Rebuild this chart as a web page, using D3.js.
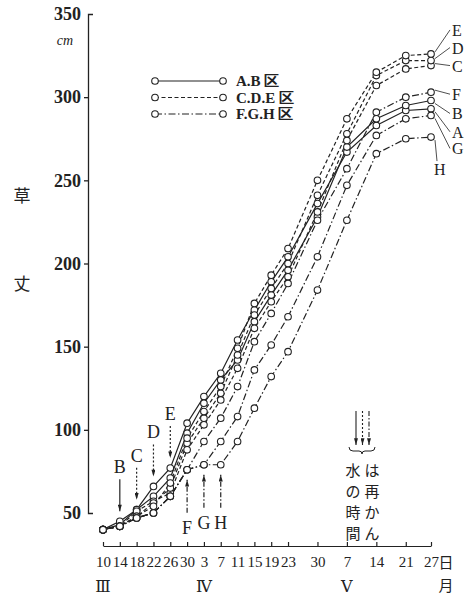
<!DOCTYPE html>
<html>
<head>
<meta charset="utf-8">
<script src="https://cdn.jsdelivr.net/npm/d3@7"></script>
<style>
  body { margin: 0; background: #fff; }
</style>
</head>
<body>
<svg id="chart" width="467" height="598"></svg>
<script>
// measurement days, counted from March 10
var days = [0, 4, 8, 12, 16, 20, 24, 28, 32, 36, 40, 44, 51, 58, 65, 72, 78];
var dayLabels = ["10","14","18","22","26","30","3","7","11","15","19","23","30","7","14","21","27"];
var monthDays = [0, 24, 58];
var monthLabels = ["Ⅲ", "Ⅳ", "Ⅴ"];
var yTicks = [50, 100, 150, 200, 250, 300, 350];

// plant height (cm) per plot
var seriesA = [40,43,52,66,77,104,120,134,154,172,189,204,236,267,283,292,293];
var seriesB = [40,45,52,60,71,98,116,130,142,165,181,196,228,270,287,295,298];
var seriesC = [40,42,51,57,62,88,103,118,137,161,177,192,231,274,307,317,319];
var seriesD = [40,42,48,56,65,92,107,122,145,169,185,200,241,278,313,322,322];
var seriesE = [40,42,48,54,68,95,111,126,149,176,193,209,250,287,315,325,326];
var seriesF = [40,42,47,50,60,76,93,107,126,153,170,188,226,257,291,300,303];
var seriesG = [40,42,47,50,60,76,79,93,108,136,151,168,204,247,277,287,289];
var seriesH = [40,42,47,50,60,76,79,79,93,113,132,147,184,226,266,275,276];

var seriesNames = ["A","B","C","D","E","F","G","H"];
var groupNames = ["A.B 区", "C.D.E 区", "F.G.H 区"];
// re-irrigation day of each plot
var rewaterNames = ["B","C","D","E","F","G","H"];
var rewaterDays = [4, 8, 12, 16, 20, 24, 28];

var allSeries = [seriesA, seriesB, seriesC, seriesD, seriesE, seriesF, seriesG, seriesH];
var groupOf = {A:0, B:0, C:1, D:1, E:1, F:2, G:2, H:2};
var dashes = [null, "4,2.5", "7,2.5,1.5,2.5"];
var ink = "#222";
var serif = "'Liberation Serif', 'DejaVu Serif', serif";
var jp = "'Noto Sans CJK JP', sans-serif";

var svg = d3.select("#chart");

var x = d3.scaleLinear().domain([0, 78]).range([103, 431]);
var y = d3.scaleLinear().domain([50, 350]).range([513, 14]);

// arrow head
svg.append("defs").append("marker")
    .attr("id", "head")
    .attr("viewBox", "0 0 10 6")
    .attr("refX", 10).attr("refY", 3)
    .attr("markerWidth", 8).attr("markerHeight", 4)
    .attr("markerUnits", "userSpaceOnUse")
    .attr("orient", "auto")
  .append("path")
    .attr("d", "M0,0L10,3L0,6Z")
    .attr("fill", ink);

// Y axis
var yAxis = svg.append("g")
    .attr("transform", "translate(88,0)")
    .call(d3.axisLeft(y).tickValues(yTicks).tickSize(4).tickSizeOuter(-5).tickPadding(3));
yAxis.selectAll(".tick").filter(function(d) { return d == 50 || d == 350; })
    .select("line").remove();
yAxis.selectAll("path, line").attr("stroke", ink).attr("stroke-width", 1.3);
yAxis.selectAll("text")
    .attr("font-family", serif).attr("font-weight", "bold")
    .attr("font-size", 18).attr("fill", ink);

svg.append("text").attr("x", 73).attr("y", 45).attr("text-anchor", "end")
    .attr("font-family", serif).attr("font-style", "italic")
    .attr("font-size", 14).attr("fill", ink).text("cm");

svg.append("text").attr("x", 22).attr("y", 202).attr("text-anchor", "middle")
    .attr("font-family", jp).attr("font-size", 17).attr("fill", ink).text("草");
svg.append("text").attr("x", 22).attr("y", 290).attr("text-anchor", "middle")
    .attr("font-family", jp).attr("font-size", 17).attr("fill", ink).text("丈");

// X axis
var xAxis = svg.append("g")
    .attr("transform", "translate(0,546)")
    .call(d3.axisBottom(x).tickValues(days)
      .tickFormat(function(d, i) { return dayLabels[i]; })
      .tickSize(-4).tickSizeOuter(0).tickPadding(10));
xAxis.selectAll("path, line").attr("stroke", ink).attr("stroke-width", 1.2);
xAxis.selectAll("text")
    .attr("font-family", serif).attr("font-size", 15).attr("fill", ink);

svg.selectAll(".month")
  .data(monthDays)
  .enter()
  .append("text")
    .attr("x", function(d) { return x(d); })
    .attr("y", 592)
    .attr("text-anchor", "middle")
    .attr("font-family", serif).attr("font-size", 16).attr("fill", ink)
    .text(function(d, i) { return monthLabels[i]; });

svg.append("text").attr("x", 446).attr("y", 568).attr("text-anchor", "middle")
    .attr("font-family", jp).attr("font-size", 15).attr("fill", ink).text("日");
svg.append("text").attr("x", 446).attr("y", 591).attr("text-anchor", "middle")
    .attr("font-family", jp).attr("font-size", 15).attr("fill", ink).text("月");

// Lines
var line = d3.line()
    .x(function(d, i) { return x(days[i]); })
    .y(function(d) { return y(d); });

svg.selectAll(".series")
  .data(allSeries)
  .enter()
  .append("path")
    .attr("d", line)
    .attr("fill", "none")
    .attr("stroke", ink)
    .attr("stroke-width", 1.2)
    .attr("stroke-dasharray", function(d, i) { return dashes[groupOf[seriesNames[i]]]; });

// Points
allSeries.forEach(function(s) {
  svg.selectAll(null)
    .data(s)
    .enter()
    .append("circle")
      .attr("cx", function(d, i) { return x(days[i]); })
      .attr("cy", function(d) { return y(d); })
      .attr("r", 3.3)
      .attr("fill", "#fff")
      .attr("stroke", ink)
      .attr("stroke-width", 1.1);
});

// series labels at right end
var labelShift = {E:[21,-20], D:[21,-9], C:[21,4], F:[21,6], B:[21,17], A:[21,27], G:[21,37], H:[3,28]};
seriesNames.forEach(function(n, i) {
  var s = allSeries[i];
  var px = x(days[days.length - 1]), py = y(s[s.length - 1]);
  var sh = labelShift[n];
  svg.append("line")
    .attr("x1", px + 4).attr("y1", py + (sh[1] > 10 ? 3 : -2))
    .attr("x2", px + Math.max(sh[0] - 2, 6)).attr("y2", py + sh[1] - 4)
    .attr("stroke", ink).attr("stroke-width", 0.8);
  svg.append("text")
    .attr("x", px + sh[0]).attr("y", py + sh[1] + (n == "H" ? 10 : 2))
    .attr("font-family", serif).attr("font-size", 16).attr("fill", ink)
    .text(n);
});

// Legend
groupNames.forEach(function(g, i) {
  var ly = 81 + i * 16.5;
  svg.append("line")
    .attr("x1", 155).attr("x2", 223).attr("y1", ly).attr("y2", ly)
    .attr("stroke", ink).attr("stroke-width", 1.2)
    .attr("stroke-dasharray", dashes[i]);
  [155, 223].forEach(function(cx) {
    svg.append("circle").attr("cx", cx).attr("cy", ly).attr("r", 3.3)
      .attr("fill", "#fff").attr("stroke", ink).attr("stroke-width", 1.1);
  });
  svg.append("text")
    .attr("x", 236).attr("y", ly + 5)
    .attr("font-family", serif).attr("font-weight", "bold")
    .attr("font-size", 15).attr("fill", ink)
    .text(g);
});

// re-irrigation arrows
rewaterNames.forEach(function(n, i) {
  var d = rewaterDays[i];
  var k = days.indexOf(d);
  var vals = allSeries.map(function(s) { return s[k]; });
  var ax = x(d);
  var dash = dashes[groupOf[n]] ? (groupOf[n] == 1 ? "2,2" : "5,2,1.5,2") : null;
  var tip, tail, ty;
  if (groupOf[n] < 2) {
    tip = y(d3.max(vals)) - 10;
    tail = tip - 32;
    ty = tail - 6;
  } else {
    tip = y(d3.min(vals)) + 10;
    tail = tip + 33;
    ty = tail + 21;
  }
  svg.append("line")
    .attr("x1", ax).attr("x2", ax).attr("y1", tail).attr("y2", tip)
    .attr("stroke", ink).attr("stroke-width", 1.2)
    .attr("stroke-dasharray", dash)
    .attr("marker-end", "url(#head)");
  svg.append("text")
    .attr("x", ax).attr("y", ty).attr("text-anchor", "middle")
    .attr("font-family", serif).attr("font-size", 18).attr("fill", ink)
    .text(n);
});

// note: arrows mark re-irrigation time
[null, "2,2", "5,2,1.5,2"].forEach(function(ds, i) {
  var ax = 356 + i * 6.5;
  svg.append("line")
    .attr("x1", ax).attr("x2", ax).attr("y1", 411).attr("y2", 445)
    .attr("stroke", ink).attr("stroke-width", 1.1)
    .attr("stroke-dasharray", ds)
    .attr("marker-end", "url(#head)");
});
svg.append("path")
    .attr("d", "M349,447 q0,4 4,4 h6 q3,0 3,3 q0,-3 3,-3 h6 q4,0 4,-4")
    .attr("fill", "none").attr("stroke", ink).attr("stroke-width", 1);
var noteLeft = ["水", "の", "時", "間"];
var noteRight = ["は", "再", "か", "ん"];
noteLeft.forEach(function(c, i) {
  svg.append("text").attr("x", 353).attr("y", 476 + i * 21).attr("text-anchor", "middle")
    .attr("font-family", jp).attr("font-size", 15).attr("fill", ink).text(c);
  svg.append("text").attr("x", 372).attr("y", 476 + i * 21).attr("text-anchor", "middle")
    .attr("font-family", jp).attr("font-size", 15).attr("fill", ink).text(noteRight[i]);
});
</script>
</body>
</html>
